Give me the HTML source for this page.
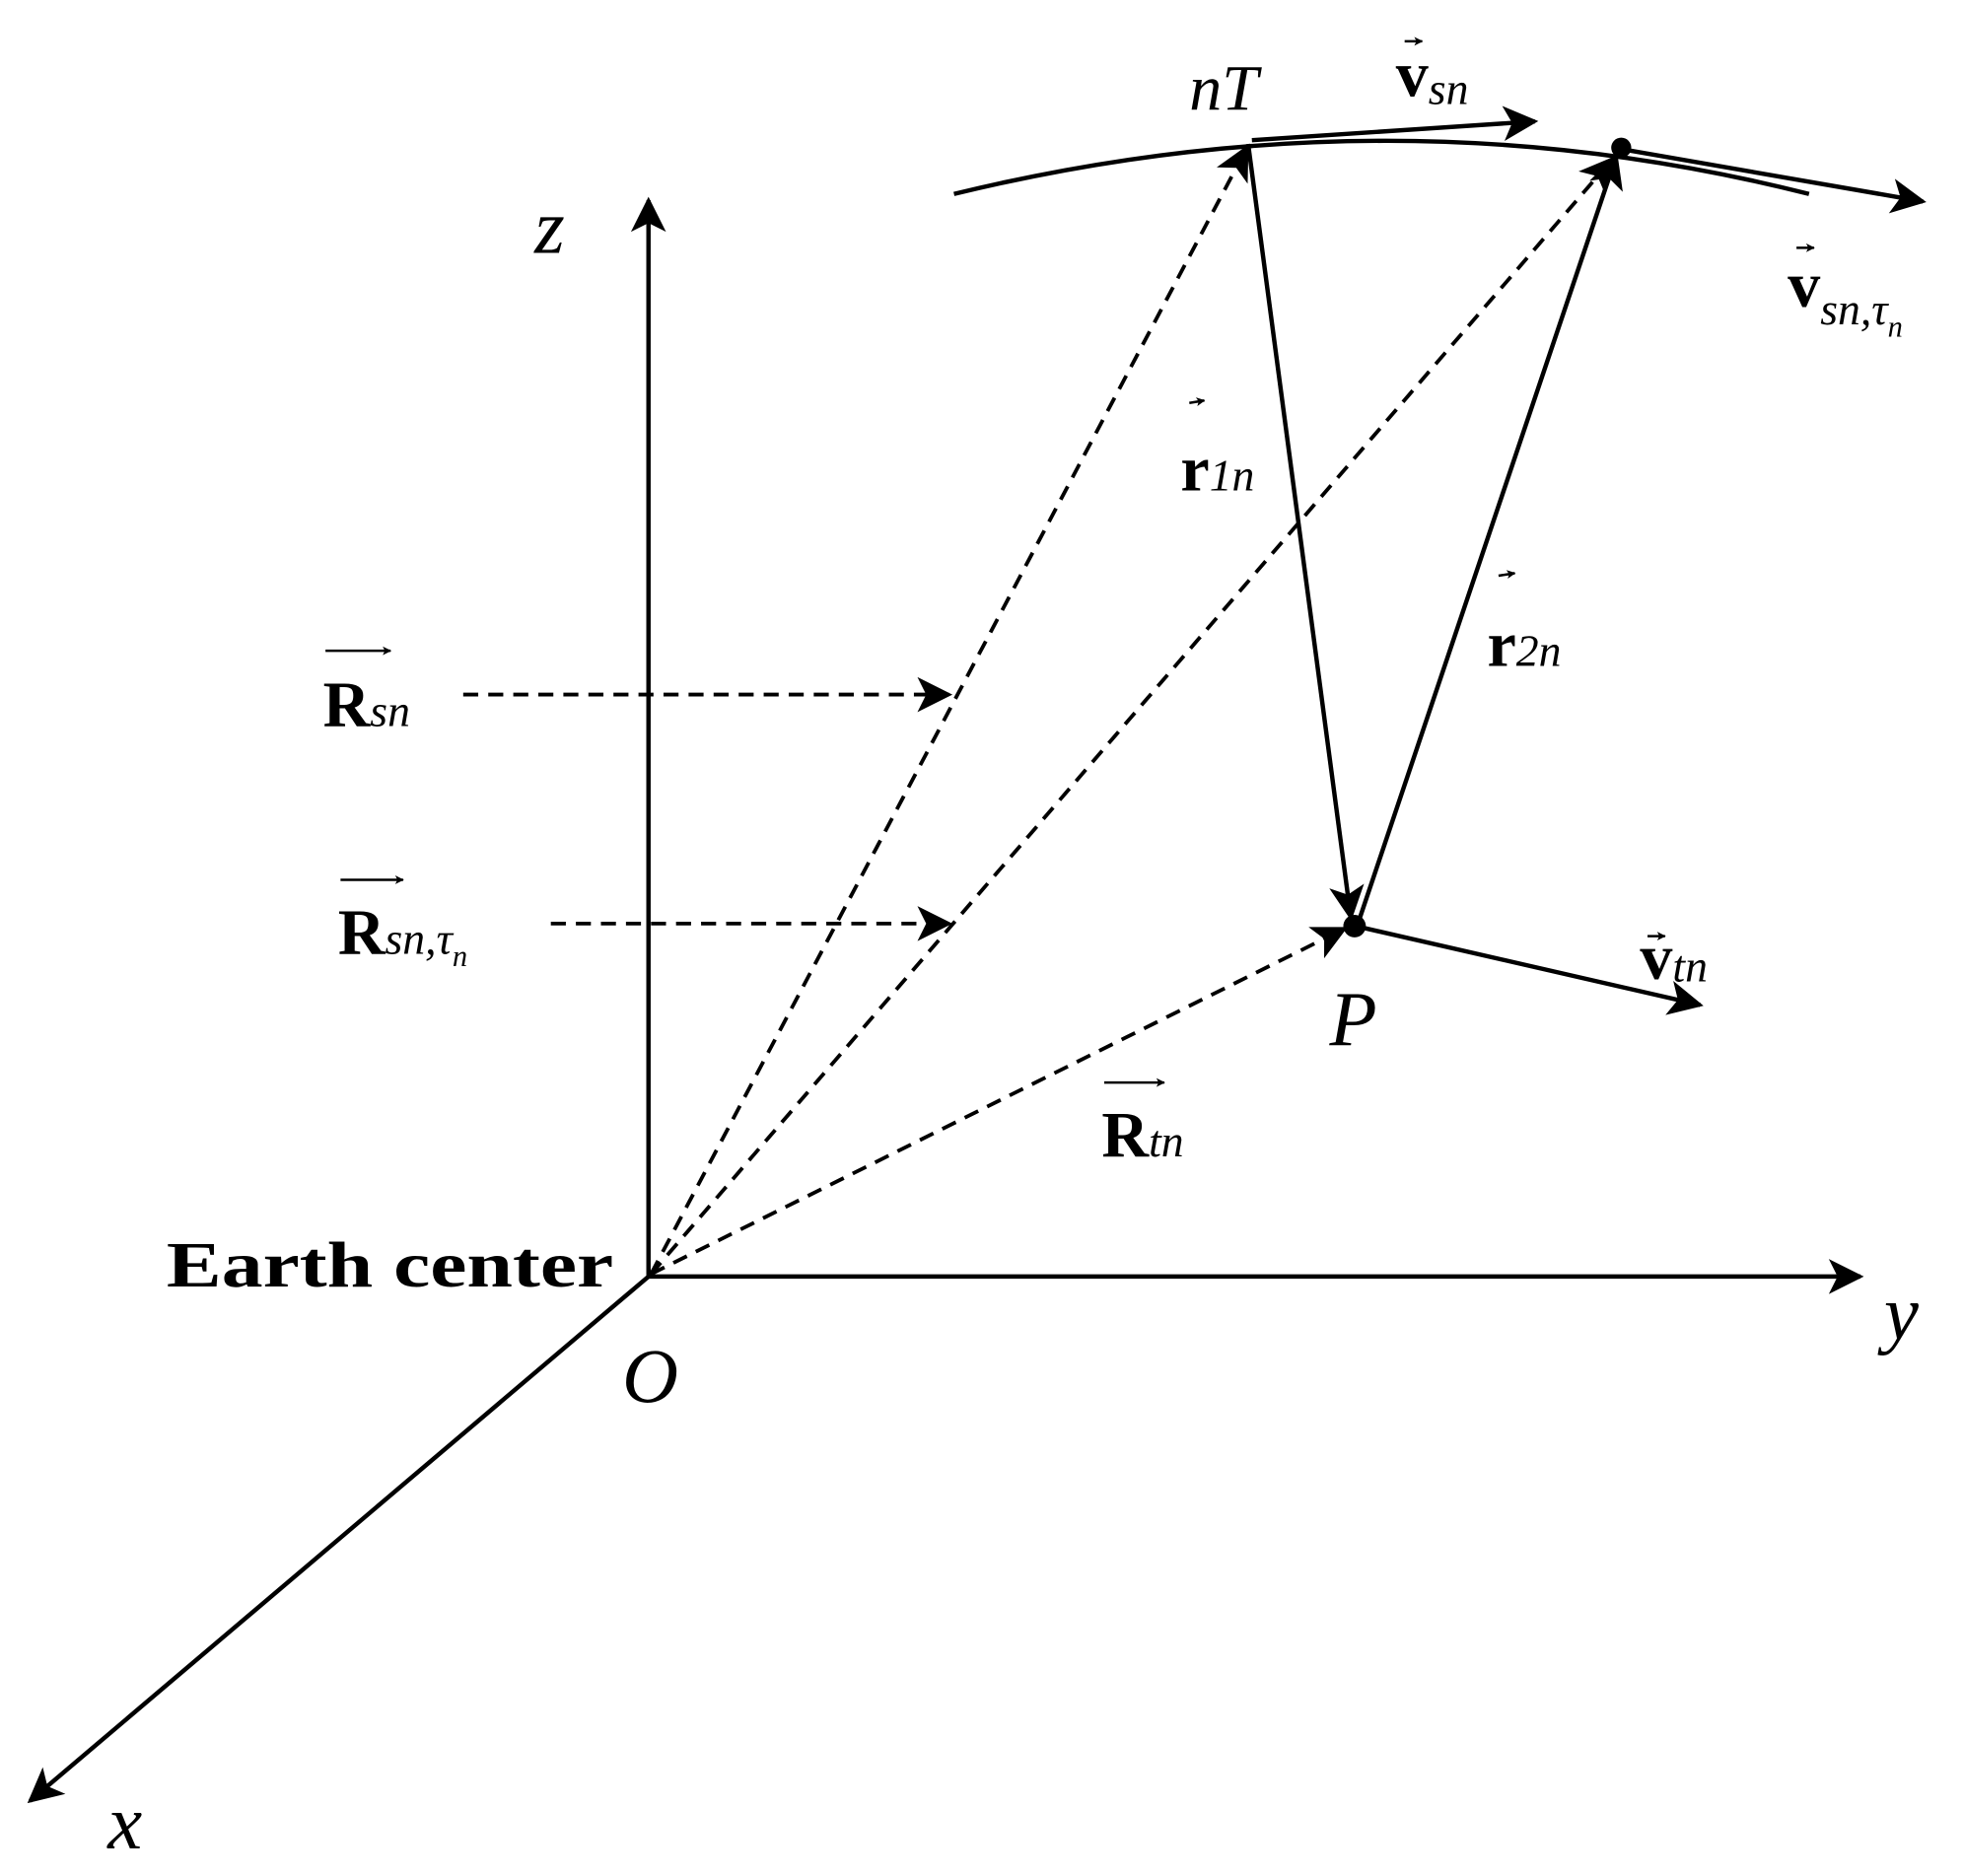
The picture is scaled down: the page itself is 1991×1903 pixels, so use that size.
<!DOCTYPE html>
<html><head><meta charset="utf-8"><style>html,body{margin:0;padding:0;background:#fff}svg{display:block}text{font-family:"Liberation Serif","Times New Roman",serif;fill:#000}marker path{fill:#000;stroke:none}</style></head><body>
<svg width="1991" height="1903" viewBox="0 0 1568 1499" preserveAspectRatio="none" xmlns="http://www.w3.org/2000/svg" font-family="Liberation Serif, serif">
<defs>
<marker id="a" viewBox="0 0 10 10" refX="9" refY="5" markerWidth="40" markerHeight="28" markerUnits="userSpaceOnUse" orient="auto"><path d="M0,0L10,5L0,10L2.5,5z"/></marker>
<marker id="s" viewBox="0 0 10 10" refX="9" refY="5" markerWidth="9" markerHeight="7" markerUnits="userSpaceOnUse" orient="auto"><path d="M0,0L10,5L0,10L2.5,5z"/></marker>
</defs>
<g stroke="#000" fill="none" stroke-width="3.5">
<line x1="518" y1="1020" x2="518" y2="160" marker-end="url(#a)"/>
<line x1="518" y1="1020" x2="1486" y2="1020" marker-end="url(#a)"/>
<line x1="518" y1="1020" x2="24" y2="1439" marker-end="url(#a)"/>
<path d="M762,155 Q1110,70 1445,155"/>
<line x1="1000" y1="112" x2="1226" y2="97" marker-end="url(#a)"/>
<line x1="1300" y1="120" x2="1536" y2="161" marker-end="url(#a)"/>
<g stroke-dasharray="12,8" stroke-width="3">
<line x1="520" y1="1018" x2="996" y2="118" marker-end="url(#a)"/>
<line x1="520" y1="1018" x2="1288" y2="127" marker-end="url(#a)"/>
<line x1="520" y1="1018" x2="1074" y2="742" marker-end="url(#a)"/>
<line x1="370" y1="555" x2="758" y2="555" marker-end="url(#a)"/>
<line x1="440" y1="738" x2="758" y2="738" marker-end="url(#a)"/>
</g>
<line x1="997" y1="115" x2="1079" y2="733" marker-end="url(#a)"/>
<line x1="1084" y1="740" x2="1291" y2="125" marker-end="url(#a)"/>
<line x1="1083" y1="740" x2="1358" y2="803" marker-end="url(#a)"/>
</g>
<g stroke="#000" stroke-width="2" fill="none">
<line x1="260" y1="520" x2="312" y2="520" marker-end="url(#s)"/>
<line x1="272" y1="703" x2="322" y2="703" marker-end="url(#s)"/>
<line x1="882" y1="865" x2="930" y2="865" marker-end="url(#s)"/>
<line x1="950" y1="322" x2="962" y2="320" marker-end="url(#s)"/>
<line x1="1197" y1="460" x2="1210" y2="458" marker-end="url(#s)"/>
<line x1="1122" y1="33" x2="1136" y2="33" marker-end="url(#s)"/>
<line x1="1435" y1="198" x2="1449" y2="198" marker-end="url(#s)"/>
<line x1="1316" y1="748" x2="1330" y2="748" marker-end="url(#s)"/>
</g>
<circle cx="1295" cy="118" r="8"/>
<circle cx="1082" cy="740" r="9"/>
<circle cx="520" cy="1018" r="3"/>
<text x="427" y="202" font-size="62" font-style="italic">z</text>
<text x="1505" y="1070" font-size="62" font-style="italic">y</text>
<text x="86" y="1477" font-size="62" font-style="italic">x</text>
<text x="497" y="1120" font-size="62" font-style="italic">O</text>
<text x="1062" y="835" font-size="62" font-style="italic">P</text>
<text x="950" y="88" font-size="52" font-style="italic">nT</text>
<text x="133" y="1028" font-size="52" font-weight="bold" textLength="357" lengthAdjust="spacingAndGlyphs">Earth center</text>
<text x="258" y="580" font-size="52" font-weight="bold">R<tspan font-size="36" font-weight="normal" font-style="italic">sn</tspan></text>
<text x="270" y="762" font-size="52" font-weight="bold">R<tspan font-size="36" font-weight="normal" font-style="italic">sn,τ</tspan><tspan font-size="24" font-style="italic" font-weight="normal" dy="10">n</tspan></text>
<text x="880" y="924" font-size="52" font-weight="bold">R<tspan font-size="36" font-weight="normal" font-style="italic">tn</tspan></text>
<text x="943" y="392" font-size="52" font-weight="bold">r<tspan font-size="36" font-weight="normal" font-style="italic">1n</tspan></text>
<text x="1188" y="532" font-size="52" font-weight="bold">r<tspan font-size="36" font-weight="normal" font-style="italic">2n</tspan></text>
<text x="1115" y="77" font-size="52" font-weight="bold">v<tspan font-size="36" font-weight="normal" font-style="italic" dy="6">sn</tspan></text>
<text x="1428" y="245" font-size="52" font-weight="bold">v<tspan font-size="36" font-weight="normal" font-style="italic" dy="14">sn,τ</tspan><tspan font-size="24" font-style="italic" font-weight="normal" dy="10">n</tspan></text>
<text x="1310" y="782" font-size="52" font-weight="bold">v<tspan font-size="36" font-weight="normal" font-style="italic" dy="2">tn</tspan></text>
</svg>
</body></html>
